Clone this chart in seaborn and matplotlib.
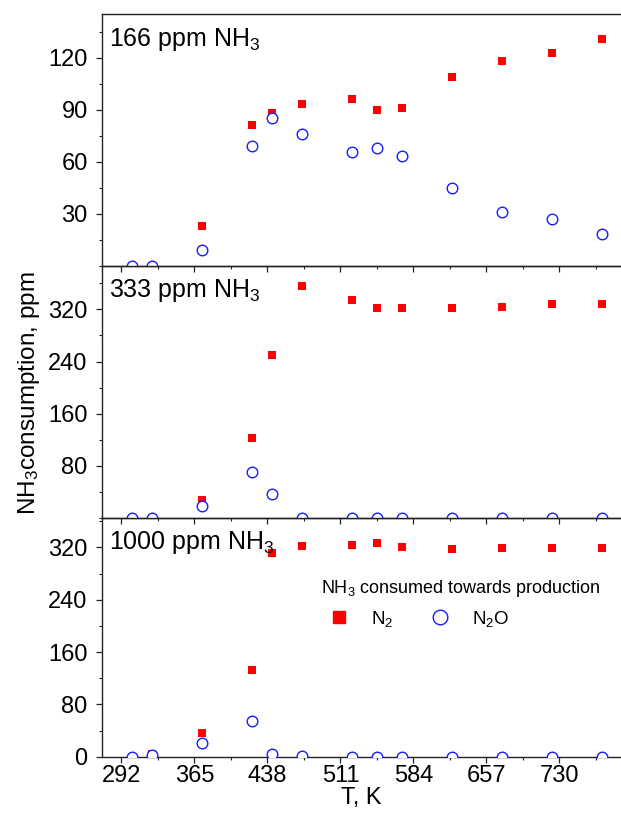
import numpy as np
import pandas as pd
import seaborn as sns
import matplotlib.pyplot as plt
from matplotlib.lines import Line2D
from matplotlib.ticker import MultipleLocator, FixedLocator

# temperatures, K
temps = [303, 323, 373, 423, 443, 473, 523, 548, 573, 623, 673, 723, 773]

# NH3 consumed towards N2 / N2O, ppm
n2_166 = [np.nan, np.nan, 22.7, 81, 88, 93, 96, 90, 91, 109, 118, 122.5, 130.5]
n2o_166 = [0, 0, 9, 69, 85, 76, 65.5, 68, 63, 45, 31, 27, 18]

n2_333 = [np.nan, np.nan, 28, 122, 250, 356, 335, 322, 322, 322, 324, 328, 328]
n2o_333 = [0, 0, 18, 70, 37, 0, 0, 0, 0, 0, 0, 0, 0]

n2_1000 = [np.nan, 4, 36, 132, 311, 321.5, 324.5, 327, 321, 318, 319, 319, 319]
n2o_1000 = [0, 2, 21.5, 54, 3.5, 1.5, 0, 0, 0, 0, 0, 0, 0]

panel_labels = ["166 ppm NH$_3$", "333 ppm NH$_3$", "1000 ppm NH$_3$"]
y_limits = [(0, 145), (0, 387), (0, 365)]
y_majors = [[30, 60, 90, 120], [80, 160, 240, 320], [0, 80, 160, 240, 320]]
y_minor_steps = [15, 40, 40]
x_majors = [292, 365, 438, 511, 584, 657, 730]

sns.set_style("ticks")
plt.rcParams["font.family"] = ["Liberation Sans", "DejaVu Sans"]
plt.rcParams["mathtext.fontset"] = "custom"
plt.rcParams["mathtext.rm"] = "Liberation Sans"
plt.rcParams["mathtext.it"] = "Liberation Sans:italic"
plt.rcParams["mathtext.bf"] = "Liberation Sans:bold"
plt.rcParams["text.color"] = "black"
plt.rcParams["axes.labelcolor"] = "black"
plt.rcParams["xtick.color"] = "black"
plt.rcParams["ytick.color"] = "black"

fig = plt.figure(figsize=(6.21, 8.18), dpi=100)
left, width = 0.1647, 0.8353
boxes = [(0.6752, 0.3073), (0.3667, 0.3085), (0.0749, 0.2918)]

data = [(n2_166, n2o_166), (n2_333, n2o_333), (n2_1000, n2o_1000)]
axes = []
for i, ((bottom, height), (n2, n2o)) in enumerate(zip(boxes, data)):
    ax = fig.add_axes([left, bottom, width, height])
    df = pd.DataFrame({"T": temps, "N2": n2, "N2O": n2o})
    sns.scatterplot(data=df, x="T", y="N2", marker="s", color="#ff0000",
                    s=26, linewidth=0, ax=ax, zorder=3)
    sns.scatterplot(data=df, x="T", y="N2O", marker="o", facecolor="white",
                    edgecolor="#1a1aff", s=58, linewidth=1.0, ax=ax, zorder=4)
    ax.set_xlim(272.8, 791.5)
    ax.set_ylim(*y_limits[i])
    ax.xaxis.set_major_locator(FixedLocator(x_majors))
    ax.xaxis.set_minor_locator(FixedLocator([v + 36.5 for v in [219] + x_majors]))
    ax.yaxis.set_major_locator(FixedLocator(y_majors[i]))
    ax.yaxis.set_minor_locator(MultipleLocator(y_minor_steps[i]))
    ax.tick_params(which="major", direction="out", length=4.5, width=0.9,
                   labelsize=17, color="#222222", labelcolor="black")
    ax.tick_params(axis="y", pad=6)
    ax.tick_params(axis="x", pad=1.5)
    ax.tick_params(which="minor", direction="out", length=2.3, width=0.8,
                   color="#222222")
    ax.spines["right"].set_visible(False)
    for sp in ["left", "top", "bottom"]:
        ax.spines[sp].set_linewidth(1.0)
        ax.spines[sp].set_color("#222222")
    ax.set_xlabel("")
    ax.set_ylabel("")
    if i < 2:
        ax.tick_params(axis="x", labelbottom=False)
    ax.text(0.012, 0.955, panel_labels[i], transform=ax.transAxes,
            ha="left", va="top", fontsize=18, color="black")
    ax.patch.set_alpha(0)
    axes.append(ax)

axes[2].set_xlabel("T, K", fontsize=17, labelpad=0)

handles = [
    Line2D([], [], marker="s", color="#ff0000", linestyle="", markersize=8.5),
    Line2D([], [], marker="o", markerfacecolor="white", markeredgecolor="#1a1aff",
           linestyle="", markersize=10.5, markeredgewidth=1.0),
]
leg = axes[2].legend(handles, ["N$_2$", "N$_2$O"], title="NH$_3$ consumed towards production",
                     loc="upper left", bbox_to_anchor=(0.421, 0.748), ncol=2,
                     frameon=False, fontsize=13.5, title_fontsize=13,
                     handletextpad=0.7, columnspacing=1.5, borderaxespad=0,
                     borderpad=0)
leg._legend_box.align = "left"

fig.text(0.047, 0.52, "NH$_3$consumption, ppm", rotation=90, ha="center",
         va="center", fontsize=17.5)

fig.savefig("out.png", dpi=100)
